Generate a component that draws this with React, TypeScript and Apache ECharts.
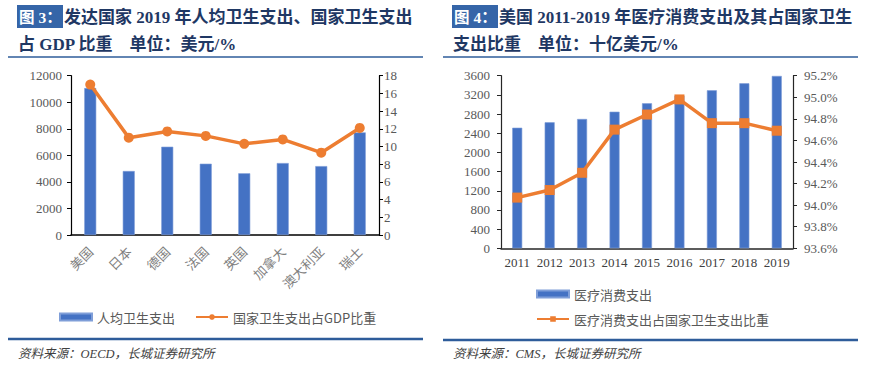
import React, { useEffect, useRef } from 'react';
import * as echarts from 'echarts';

const countries = ['美国', '日本', '德国', '法国', '英国', '加拿大', '澳大利亚', '瑞士'];
const perCapitaSpend = [11070, 4820, 6650, 5370, 4650, 5420, 5190, 7730];
const shareOfGdp = [17.0, 11.0, 11.7, 11.2, 10.3, 10.8, 9.3, 12.1];

const years = ['2011', '2012', '2013', '2014', '2015', '2016', '2017', '2018', '2019'];
const medicalSpend = [2515, 2628, 2697, 2849, 3024, 3185, 3295, 3441, 3595];
const medicalShare = [94.07, 94.14, 94.30, 94.70, 94.84, 94.98, 94.76, 94.76, 94.69];

const BLUE = '#4472C4';
const ORANGE = '#ED7D31';
const RULE = '#2E5C9A';
const TITLE = '#1F3864';
const SERIF = "'Liberation Serif', 'Noto Sans CJK SC', serif";
const CJK = "'Noto Sans CJK SC', sans-serif";

function titleBox(x: number, num: string) {
  return [
    { type: 'rect', shape: { x, y: 5, width: 46, height: 23 }, style: { fill: '#3565A8' } },
    {
      type: 'text', x: x + 2, y: 17,
      style: { text: '图 ' + num + '：', fill: '#ffffff', fontSize: 15.5, fontWeight: 'bold', fontFamily: SERIF, verticalAlign: 'middle', textVerticalAlign: 'middle' },
    },
  ];
}
function titleText(x: number, y: number, text: string) {
  return {
    type: 'text', x, y,
    style: { text, fill: TITLE, fontSize: 17, fontWeight: 'bold', fontFamily: SERIF, verticalAlign: 'middle', textVerticalAlign: 'middle' },
  };
}
function rule(x1: number, x2: number, y: number, w: number) {
  return { type: 'line', shape: { x1, y1: y, x2, y2: y }, style: { stroke: RULE, lineWidth: w } };
}
function source(x: number, y: number, text: string) {
  return {
    type: 'text', x, y,
    style: { text, fill: '#404040', fontSize: 12.5, fontStyle: 'italic', fontFamily: SERIF, verticalAlign: 'middle', textVerticalAlign: 'middle' },
  };
}

const axisLabelNum = { color: '#595959', fontSize: 13, fontFamily: SERIF };
const legendText = { color: '#595959', fontSize: 13, fontFamily: CJK, lineHeight: 16 };

export default function App() {
  const ref = useRef<HTMLDivElement>(null);
  useEffect(() => {
    document.body.style.margin = '0';
    const chart = echarts.init(ref.current!, undefined, { renderer: 'svg' });
    const option: any = {
      animation: false,
      backgroundColor: '#ffffff',
      graphic: [
        ...titleBox(17, '3'),
        titleText(64, 17, '发达国家 2019 年人均卫生支出、国家卫生支出'),
        titleText(18, 44, '占 GDP 比重　单位：美元/%'),
        rule(8, 423, 57, 1.5),
        rule(8, 423, 339, 2.5),
        source(18, 354, '资料来源：OECD，长城证券研究所'),
        ...titleBox(452, '4'),
        titleText(499, 17, '美国 2011-2019 年医疗消费支出及其占国家卫生'),
        titleText(453, 44, '支出比重　单位：十亿美元/%'),
        rule(443, 858, 57, 1.5),
        rule(443, 858, 340, 2.5),
        source(453, 354, '资料来源：CMS，长城证券研究所'),
      ],
      grid: [
        { left: 71, right: 501, top: 75.7, bottom: 156 },
        { left: 501, right: 87, top: 75.7, bottom: 142.7 },
      ],
      legend: [
        {
          left: 59, top: 309, padding: 0, itemWidth: 32, itemHeight: 7, itemGap: 20,
          textStyle: legendText,
          data: [{ name: '人均卫生支出', icon: 'rect' }, { name: '国家卫生支出占GDP比重' }],
        },
        {
          left: 536, top: 286, padding: 0, itemWidth: 32, itemHeight: 7,
          textStyle: legendText,
          data: [{ name: '医疗消费支出', icon: 'rect' }],
        },
        {
          left: 536, top: 311, padding: 0, itemWidth: 32, itemHeight: 7,
          textStyle: legendText,
          data: [{ name: '医疗消费支出占国家卫生支出比重' }],
        },
      ],
      xAxis: [
        {
          type: 'category', gridIndex: 0, data: countries,
          axisLine: { lineStyle: { color: '#000000', width: 1.5 } },
          axisTick: { show: false },
          axisLabel: { rotate: 45, interval: 0, color: '#7F7F7F', fontSize: 13, fontFamily: CJK, margin: 14 },
        },
        {
          type: 'category', gridIndex: 1, data: years,
          axisLine: { lineStyle: { color: '#262626', width: 1.5 } },
          axisTick: { show: false },
          axisLabel: { interval: 0, color: '#404040', fontSize: 13, fontFamily: SERIF, margin: 8 },
        },
      ],
      yAxis: [
        {
          type: 'value', gridIndex: 0, min: 0, max: 12000, interval: 2000,
          axisLine: { show: true, lineStyle: { color: '#000000', width: 1.2 } },
          axisTick: { show: true, length: 4, lineStyle: { color: '#000000' } },
          splitLine: { show: false },
          axisLabel: { ...axisLabelNum, margin: 9, formatter: (v: number) => String(v) },
        },
        {
          type: 'value', gridIndex: 0, position: 'right', min: 0, max: 18, interval: 2,
          axisLine: { show: true, lineStyle: { color: '#000000', width: 1.2 } },
          axisTick: { show: true, length: 4, lineStyle: { color: '#000000' } },
          splitLine: { show: false },
          axisLabel: { ...axisLabelNum, margin: 5, formatter: (v: number) => String(v) },
        },
        {
          type: 'value', gridIndex: 1, min: 0, max: 3600, interval: 400,
          axisLine: { show: true, lineStyle: { color: '#262626', width: 1.2 } },
          axisTick: { show: true, length: 4, lineStyle: { color: '#262626' } },
          splitLine: { show: false },
          axisLabel: { ...axisLabelNum, margin: 11, formatter: (v: number) => String(v) },
        },
        {
          type: 'value', gridIndex: 1, position: 'right', min: 93.6, max: 95.2, interval: 0.2,
          axisLine: { show: true, lineStyle: { color: '#262626', width: 1.2 } },
          axisTick: { show: true, length: 4, lineStyle: { color: '#262626' } },
          splitLine: { show: false },
          axisLabel: { ...axisLabelNum, margin: 11, formatter: (v: number) => v.toFixed(1) + '%' },
        },
      ],
      series: [
        {
          name: '人均卫生支出', type: 'bar', xAxisIndex: 0, yAxisIndex: 0, data: perCapitaSpend,
          barWidth: 12, itemStyle: { color: BLUE, borderColor: '#7F9ED8', borderWidth: 0.6 },
        },
        {
          name: '国家卫生支出占GDP比重', type: 'line', xAxisIndex: 0, yAxisIndex: 1, data: shareOfGdp,
          symbol: 'circle', symbolSize: 10, lineStyle: { color: ORANGE, width: 3.5 }, itemStyle: { color: ORANGE },
        },
        {
          name: '医疗消费支出', type: 'bar', xAxisIndex: 1, yAxisIndex: 2, data: medicalSpend,
          barWidth: 10, itemStyle: { color: BLUE, borderColor: '#7F9ED8', borderWidth: 0.6 },
        },
        {
          name: '医疗消费支出占国家卫生支出比重', type: 'line', xAxisIndex: 1, yAxisIndex: 3, data: medicalShare,
          symbol: 'rect', symbolSize: 10, lineStyle: { color: ORANGE, width: 3.5 }, itemStyle: { color: ORANGE },
        },
      ],
    };
    chart.setOption(option);
    return () => chart.dispose();
  }, []);
  return <div ref={ref} style={{ width: 880, height: 391 }} />;
}
